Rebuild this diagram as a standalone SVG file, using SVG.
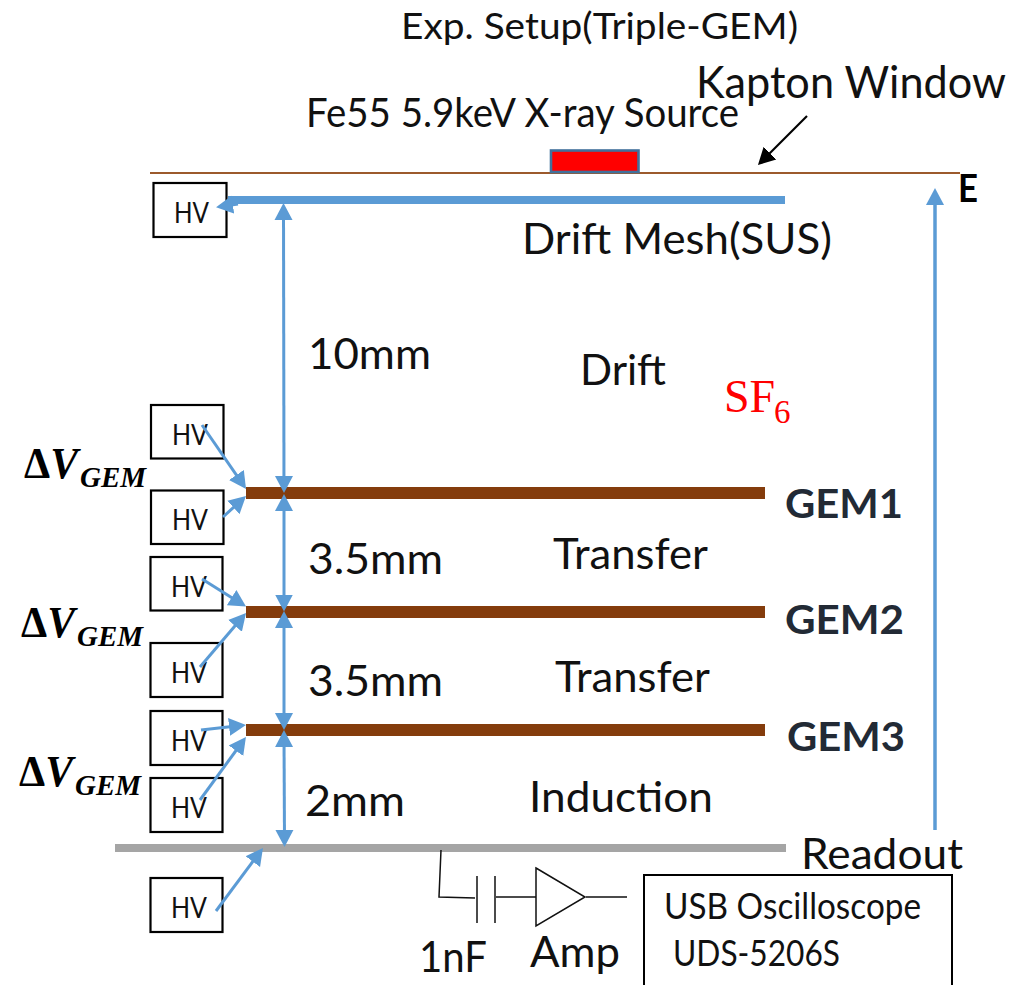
<svg xmlns="http://www.w3.org/2000/svg" width="1015" height="985" viewBox="0 0 1015 985">
<style>
text{font-family:"Lato","Liberation Sans",sans-serif;fill:#111}
.hv{font-size:29px}
.l{font-size:43px}
.box{fill:#fff;stroke:#000;stroke-width:2.2}
.gem{fill:#843c0c}
.g{font-size:40px;font-weight:700;fill:#222a35}
.d{font-family:"Liberation Serif",serif;font-weight:700;font-style:italic;fill:#000}
.u{font-style:normal}
.c{fill:none;stroke:#5b9bd5;stroke-width:3}
.k{fill:none;stroke:#111;stroke-width:1.5}
.r{font-family:"Liberation Serif",serif;fill:#f00}
</style>
<defs>
<marker id="a" markerUnits="userSpaceOnUse" markerWidth="20" markerHeight="20" refX="12" refY="10" orient="auto-start-reverse"><path d="M0 1L17 10L0 19Z" fill="#5b9bd5"/></marker>
<marker id="b" markerUnits="userSpaceOnUse" markerWidth="20" markerHeight="20" refX="12" refY="10" orient="auto"><path d="M0 1L17 10L0 19Z" fill="#000"/></marker>
</defs>
<rect width="1015" height="985" fill="#fff"/>
<g id="labels">
<text x="401" y="39" font-size="37" textLength="397" lengthAdjust="spacingAndGlyphs">Exp. Setup(Triple-GEM)</text>
<text x="696" y="98" font-size="44" textLength="310" lengthAdjust="spacingAndGlyphs">Kapton Window</text>
<text x="306" y="127" font-size="41" textLength="433" lengthAdjust="spacingAndGlyphs">Fe55 5.9keV X-ray Source</text>
<text x="958" y="202" font-size="38" font-weight="700" style="fill:#000" textLength="20" lengthAdjust="spacingAndGlyphs">E</text>
<text x="522" y="254" class="l" textLength="310" lengthAdjust="spacingAndGlyphs">Drift Mesh(SUS)</text>
<text x="308" y="369" class="l" textLength="123" lengthAdjust="spacingAndGlyphs">10mm</text>
<text x="580" y="385" class="l" textLength="86" lengthAdjust="spacingAndGlyphs">Drift</text>
<text x="724" y="412" font-size="46" class="r">SF<tspan x="774" y="423" font-size="33">6</tspan></text>
<text x="308" y="574" class="l" textLength="135" lengthAdjust="spacingAndGlyphs">3.5mm</text>
<text x="553" y="569" class="l" textLength="155" lengthAdjust="spacingAndGlyphs">Transfer</text>
<text x="308" y="696" class="l" textLength="135" lengthAdjust="spacingAndGlyphs">3.5mm</text>
<text x="555" y="692" class="l" textLength="155" lengthAdjust="spacingAndGlyphs">Transfer</text>
<text x="305" y="816" class="l" textLength="100" lengthAdjust="spacingAndGlyphs">2mm</text>
<text x="529" y="812" class="l" textLength="184" lengthAdjust="spacingAndGlyphs">Induction</text>
<text x="801" y="869" class="l" textLength="162" lengthAdjust="spacingAndGlyphs">Readout</text>
<text x="419" y="972" class="l" textLength="68" lengthAdjust="spacingAndGlyphs">1nF</text>
<text x="530" y="967" class="l" textLength="90" lengthAdjust="spacingAndGlyphs">Amp</text>
<text x="785" y="518" class="g" textLength="118" lengthAdjust="spacingAndGlyphs">GEM1</text>
<text x="785" y="634" class="g" textLength="119" lengthAdjust="spacingAndGlyphs">GEM2</text>
<text x="787" y="751" class="g" textLength="118" lengthAdjust="spacingAndGlyphs">GEM3</text>
<text x="24" y="478" class="d" font-size="44" textLength="54" lengthAdjust="spacingAndGlyphs"><tspan class="u">Δ</tspan>V</text>
<text x="80" y="487" class="d" font-size="29" textLength="66" lengthAdjust="spacingAndGlyphs">GEM</text>
<text x="21" y="637" class="d" font-size="44" textLength="54" lengthAdjust="spacingAndGlyphs"><tspan class="u">Δ</tspan>V</text>
<text x="77" y="646" class="d" font-size="29" textLength="66" lengthAdjust="spacingAndGlyphs">GEM</text>
<text x="19" y="786" class="d" font-size="44" textLength="54" lengthAdjust="spacingAndGlyphs"><tspan class="u">Δ</tspan>V</text>
<text x="75" y="795" class="d" font-size="29" textLength="66" lengthAdjust="spacingAndGlyphs">GEM</text>
</g>
<g id="kapton-window"><line x1="150" y1="173" x2="960" y2="173" stroke="#9c5a2c" stroke-width="1.8"/></g>
<g id="source"><rect x="551" y="150.500" width="87.500" height="21.500" fill="#f00" stroke="#41719c" stroke-width="2.600"/></g>
<g id="drift-mesh"><rect x="228" y="196" width="557" height="8" fill="#5b9bd5"/></g>
<g id="gem1"><rect x="246" y="487" width="519" height="12" class="gem"/></g>
<g id="gem2"><rect x="246" y="606" width="519" height="12" class="gem"/></g>
<g id="gem3"><rect x="246" y="724" width="519" height="12" class="gem"/></g>
<g id="readout"><rect x="115" y="844" width="671" height="8" fill="#a5a5a5"/></g>
<g id="hv1"><rect x="153.500" y="183" width="73" height="54" class="box"/><text x="174" y="223" class="hv" textLength="35" lengthAdjust="spacingAndGlyphs">HV</text></g>
<g id="hv2"><rect x="151" y="405" width="72.500" height="53.500" class="box"/><text x="172" y="445" class="hv" textLength="36" lengthAdjust="spacingAndGlyphs">HV</text></g>
<g id="hv3"><rect x="151" y="490.500" width="72.500" height="53.500" class="box"/><text x="172" y="530" class="hv" textLength="36" lengthAdjust="spacingAndGlyphs">HV</text></g>
<g id="hv4"><rect x="150.500" y="557" width="72" height="53.500" class="box"/><text x="171" y="597" class="hv" textLength="36" lengthAdjust="spacingAndGlyphs">HV</text></g>
<g id="hv5"><rect x="150.500" y="643" width="72" height="54" class="box"/><text x="171" y="683" class="hv" textLength="36" lengthAdjust="spacingAndGlyphs">HV</text></g>
<g id="hv6"><rect x="150.500" y="711" width="72" height="54" class="box"/><text x="171" y="751" class="hv" textLength="36" lengthAdjust="spacingAndGlyphs">HV</text></g>
<g id="hv7"><rect x="150.500" y="778" width="72" height="54" class="box"/><text x="171" y="818" class="hv" textLength="36" lengthAdjust="spacingAndGlyphs">HV</text></g>
<g id="hv8"><rect x="150.500" y="878" width="72" height="54" class="box"/><text x="171" y="918" class="hv" textLength="36" lengthAdjust="spacingAndGlyphs">HV</text></g>
<g id="oscilloscope">
<path d="M644 985V875H952V985" fill="none" stroke="#000" stroke-width="2"/>
<text x="664" y="919" font-size="36" textLength="257" lengthAdjust="spacingAndGlyphs">USB Oscilloscope</text>
<text x="673" y="966" font-size="36" textLength="167" lengthAdjust="spacingAndGlyphs">UDS-5206S</text>
</g>
<g id="amp"><path d="M536 868L585 897L536 926Z" fill="#fff" stroke="#111" stroke-width="1.500"/></g>
<g id="connectors">
<path class="c" d="M238 204L221 206.500" marker-end="url(#a)"/>
<line class="c" x1="283.500" y1="208" x2="284" y2="488" marker-start="url(#a)" marker-end="url(#a)"/>
<line class="c" x1="284" y1="499" x2="284" y2="606.500" marker-start="url(#a)" marker-end="url(#a)"/>
<line class="c" x1="284" y1="616" x2="284" y2="725" marker-start="url(#a)" marker-end="url(#a)"/>
<line class="c" x1="284" y1="735" x2="284.500" y2="842" marker-start="url(#a)" marker-end="url(#a)"/>
<line class="c" x1="935" y1="830" x2="935" y2="193" marker-end="url(#a)" style="stroke-width:3.500"/>
<line class="c" x1="202" y1="425" x2="243.200" y2="484.900" marker-end="url(#a)"/>
<line class="c" x1="223" y1="517" x2="242.300" y2="499.400" marker-end="url(#a)"/>
<line class="c" x1="202" y1="579" x2="241.800" y2="603.900" marker-end="url(#a)"/>
<line class="c" x1="200" y1="667" x2="242.800" y2="616.800" marker-end="url(#a)"/>
<line class="c" x1="201" y1="730" x2="241" y2="725.600" marker-end="url(#a)"/>
<line class="c" x1="200" y1="800" x2="243" y2="741" marker-end="url(#a)"/>
<line class="c" x1="216" y1="911" x2="260" y2="852" marker-end="url(#a)"/>
<line x1="807" y1="116" x2="761.500" y2="161.500" stroke="#000" stroke-width="2.200" marker-end="url(#b)"/>
<path class="k" d="M441 850L439 897L475 898M477 876V923M495 876V923M496 897H536M586 897H627"/>
</g>
</svg>
